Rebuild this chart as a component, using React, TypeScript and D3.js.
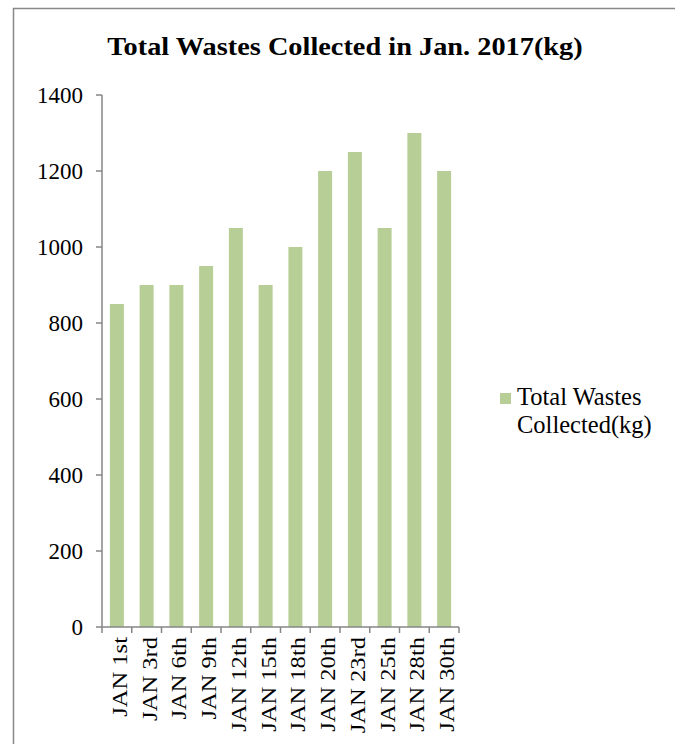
import React from "react";
import * as d3 from "d3";

const categories = ["JAN 1st", "JAN 3rd", "JAN 6th", "JAN 9th", "JAN 12th", "JAN 15th", "JAN 18th", "JAN 20th", "JAN 23rd", "JAN 25th", "JAN 28th", "JAN 30th"];
const values = [850, 900, 900, 950, 1050, 900, 1000, 1200, 1250, 1050, 1300, 1200];
const yTicks = [0, 200, 400, 600, 800, 1000, 1200, 1400];
const title = "Total Wastes Collected in Jan. 2017(kg)";
const legendLines = ["Total Wastes", "Collected(kg)"];

export default function App() {
  const W = 675, H = 744;
  const left = 102, right = 459, top = 95, bottom = 627;
  const x = d3.scaleBand<string>().domain(categories).range([left, right]).paddingInner(0.53).paddingOuter(0.265);
  const xb = d3.scaleBand<string>().domain(categories).range([left, right]);
  const y = d3.scaleLinear().domain([0, 1400]).range([bottom, top]);
  const axisColor = "#868686";
  const barColor = "#b7ce96";
  const font = "Liberation Serif";
  return (
    <svg width={W} height={H} style={{ position: "absolute", left: 0, top: 0, background: "#fff", fontFamily: font }}>
      <rect x={13.5} y={8.5} width={W + 10} height={H + 10} fill="#fff" stroke="#888" strokeWidth={1.5} />
      <text transform="translate(345,55) scale(1.09,1)" textAnchor="middle" fontSize={26} fontWeight="bold" fill="#000" style={{ fontFamily: font }}>{title}</text>
      {categories.map((c, i) => (
        <rect key={c} x={x(c)} y={y(values[i])} width={x.bandwidth()} height={bottom - y(values[i])} fill={barColor} />
      ))}
      <line x1={left} x2={left} y1={top} y2={bottom} stroke={axisColor} strokeWidth={1.5} />
      {yTicks.map((t) => (
        <g key={t}>
          <line x1={left - 6} x2={left} y1={y(t)} y2={y(t)} stroke={axisColor} strokeWidth={1.5} />
          <text x={83} y={y(t)} dy="0.33em" textAnchor="end" fontSize={23} fill="#000" style={{ fontFamily: font }}>{t}</text>
        </g>
      ))}
      <line x1={left} x2={right} y1={bottom} y2={bottom} stroke={axisColor} strokeWidth={1.5} />
      {categories.map((c) => (
        <line key={"t" + c} x1={(xb(c) as number)} x2={(xb(c) as number)} y1={bottom} y2={bottom + 6} stroke={axisColor} strokeWidth={1.5} />
      ))}
      <line x1={right} x2={right} y1={bottom} y2={bottom + 6} stroke={axisColor} strokeWidth={1.5} />
      {categories.map((c) => {
        const cx = (x(c) as number) + x.bandwidth() / 2;
        return (
          <text key={"l" + c} transform={`translate(${cx + 10},${bottom + 10}) rotate(-90) scale(1.17,1)`} textAnchor="end" fontSize={21} fill="#000" style={{ fontFamily: font }}>{c}</text>
        );
      })}
      <rect x={500} y={393} width={11} height={11} fill={barColor} />
      {legendLines.map((l, i) => (
        <text key={l} x={517} y={405 + i * 28} fontSize={24.5} fill="#000" style={{ fontFamily: font }}>{l}</text>
      ))}
    </svg>
  );
}
